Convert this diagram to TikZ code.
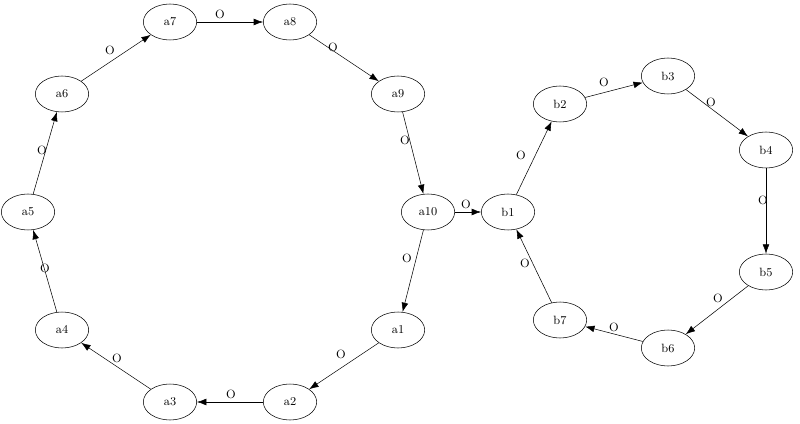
\documentclass[tikz,border=0pt]{standalone}
\usetikzlibrary{shapes.geometric,arrows.meta}
\begin{document}
\begin{tikzpicture}[x=0.75pt,y=-0.75pt,
 nd/.style={draw,ellipse,minimum width=40pt,minimum height=27pt,inner sep=0pt,font=\small},
 ed/.style={-{Latex[length=7pt,width=5pt]}},
 lb/.style={font=\small}]
\useasboundingbox (0,0) rectangle (800,424);
\foreach \n/\x/\y in {a7/170/22,a8/290/22,a9/398/94,a10/428/212,a1/398/330,a2/290/402,a3/170/402,a4/62/330,a5/28/212,a6/62/94,b1/508/212,b2/560/104,b3/668/76,b4/766/150,b5/766/272,b6/668/348,b7/560/320}
  \node[nd] (\n) at (\x,\y) {\n};
\foreach \s/\t/\x/\y in {a7/a8/220/14,a8/a9/333/47,a9/a10/405/140,a10/b1/466/204,a10/a1/407/258,a1/a2/341/354,a2/a3/231/394,a3/a4/117/358,a4/a5/45/268,a5/a6/42/150,a6/a7/110/50,b1/b2/521/155,b2/b3/604/82,b3/b4/711/102,b4/b5/763/200,b5/b6/718/298,b6/b7/614/327,b7/b1/525/263}{
  \draw[ed] (\s) -- (\t);
  \node[lb] (l\s\t) at (\x,\y) {O};
}
\end{tikzpicture}
\end{document}
